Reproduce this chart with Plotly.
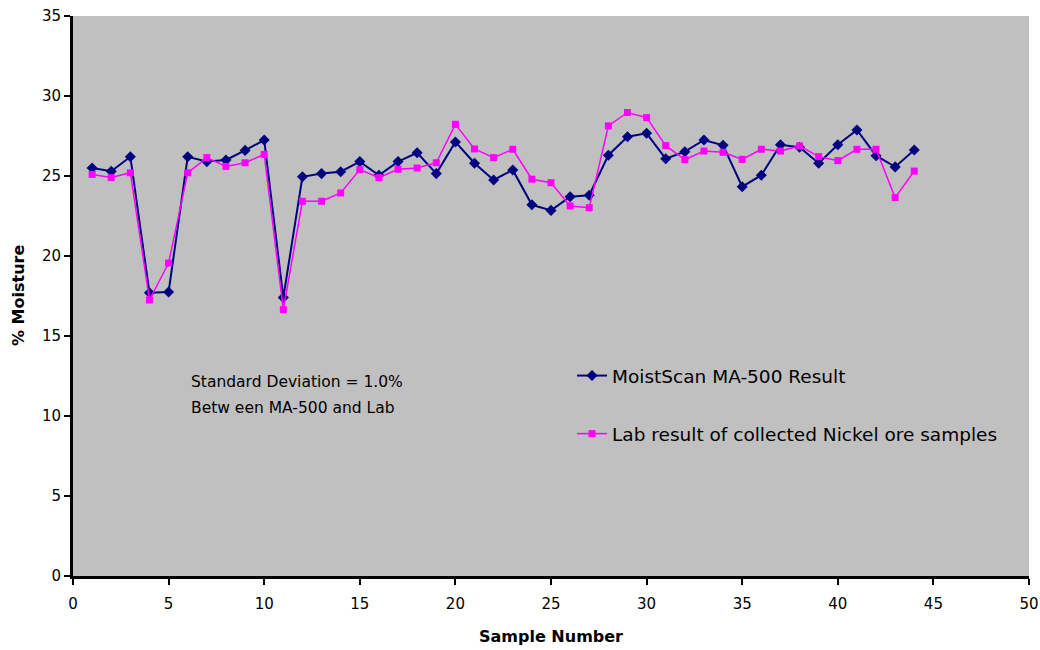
import plotly.graph_objects as go

samples = list(range(1, 45))
moistscan = [25.5, 25.3, 26.2, 17.7, 17.75, 26.2, 25.9, 26.0, 26.6, 27.25,
             17.4, 24.95, 25.15, 25.27, 25.9, 25.05, 25.9, 26.45, 25.15, 27.13,
             25.8, 24.75, 25.38, 23.2, 22.85, 23.7, 23.8, 26.3, 27.45, 27.67,
             26.08, 26.52, 27.25, 26.92, 24.33, 25.05, 26.95, 26.8, 25.8, 26.95,
             27.88, 26.27, 25.57, 26.63]
lab = [25.1, 24.9, 25.2, 17.25, 19.56, 25.2, 26.15, 25.6, 25.83, 26.35,
       16.65, 23.42, 23.42, 23.94, 25.4, 24.9, 25.42, 25.5, 25.83, 28.23,
       26.69, 26.15, 26.67, 24.8, 24.58, 23.13, 23.02, 28.13, 28.97, 28.65,
       26.9, 26.02, 26.56, 26.48, 26.04, 26.67, 26.56, 26.88, 26.21, 25.96,
       26.67, 26.67, 23.65, 25.31]

x_ticks = [0, 5, 10, 15, 20, 25, 30, 35, 40, 45, 50]
y_ticks = [0, 5, 10, 15, 20, 25, 30, 35]

font = "DejaVu Sans, Arial, sans-serif"

W, H = 1040, 650
L, T, R, B = 73, 16, 11, 74
PW, PH = W - L - R, H - T - B

fig = go.Figure()
fig.add_trace(go.Scatter(
    x=samples, y=moistscan, mode="lines+markers",
    name="MoistScan MA-500 Result", legendgroup="a",
    line=dict(color="#000080", width=2),
    marker=dict(symbol="diamond", size=8.5, color="#000080"),
))
fig.add_trace(go.Scatter(
    x=samples, y=lab, mode="lines+markers",
    name="Lab result of collected Nickel ore samples", legendgroup="b",
    line=dict(color="#FF00FF", width=1.5),
    marker=dict(symbol="square", size=7, color="#FF00FF"),
))

note_font = dict(family=font, size=15.5, color="black")
fig.add_annotation(
    x=0.121, y=0.347, xref="paper", yref="paper", xanchor="left", yanchor="middle",
    text="Standard Deviation = 1.0%", showarrow=False, font=note_font,
)
fig.add_annotation(
    x=0.121, y=0.300, xref="paper", yref="paper", xanchor="left", yanchor="middle",
    text="Betw een MA-500 and Lab", showarrow=False, font=note_font,
)
fig.add_annotation(
    x=0.5, y=-(636 - 576) / PH, xref="paper", yref="paper", showarrow=False,
    text="<b>Sample Number</b>", font=dict(family=font, size=16, color="black"),
    yanchor="middle", xanchor="center",
)
fig.add_annotation(
    x=-(73 - 18) / PW, y=0.5, xref="paper", yref="paper", showarrow=False,
    text="<b>% Moisture</b>", textangle=-90,
    font=dict(family=font, size=16, color="black"),
    xanchor="center", yanchor="middle",
)

fig.update_layout(
    width=W, height=H,
    margin=dict(l=L, r=R, t=T, b=B, autoexpand=False),
    paper_bgcolor="white", plot_bgcolor="#C0C0C0",
    font=dict(family=font, size=15, color="black"),
    showlegend=True,
    legend=dict(
        x=0.522, y=0.391, xanchor="left", yanchor="top",
        bgcolor="rgba(0,0,0,0)", font=dict(size=18.5, family=font),
        tracegroupgap=31, traceorder="grouped",
    ),
    xaxis=dict(
        range=[0, 50], tickvals=x_ticks, showgrid=False, zeroline=False,
        showline=True, linecolor="black", linewidth=3, automargin=False,
        ticks="outside", ticklen=6, tickwidth=2, tickcolor="black",
        ticklabelstandoff=6, ticklabeloverflow="allow",
        tickfont=dict(size=15),
    ),
    yaxis=dict(
        range=[0, 35], tickvals=y_ticks, showgrid=False, zeroline=False,
        showline=True, linecolor="black", linewidth=3, automargin=False,
        ticks="outside", ticklen=6, tickwidth=2, tickcolor="black",
        ticklabelstandoff=0, ticklabeloverflow="allow",
        tickfont=dict(size=15),
    ),
)

# remove the page's default 8px body margin so the figure sits at the window origin
fig.write_html(
    "out.html",
    config={"displayModeBar": False},
    post_script="document.body.style.margin='0';"
                "document.documentElement.style.overflow='hidden';",
)
